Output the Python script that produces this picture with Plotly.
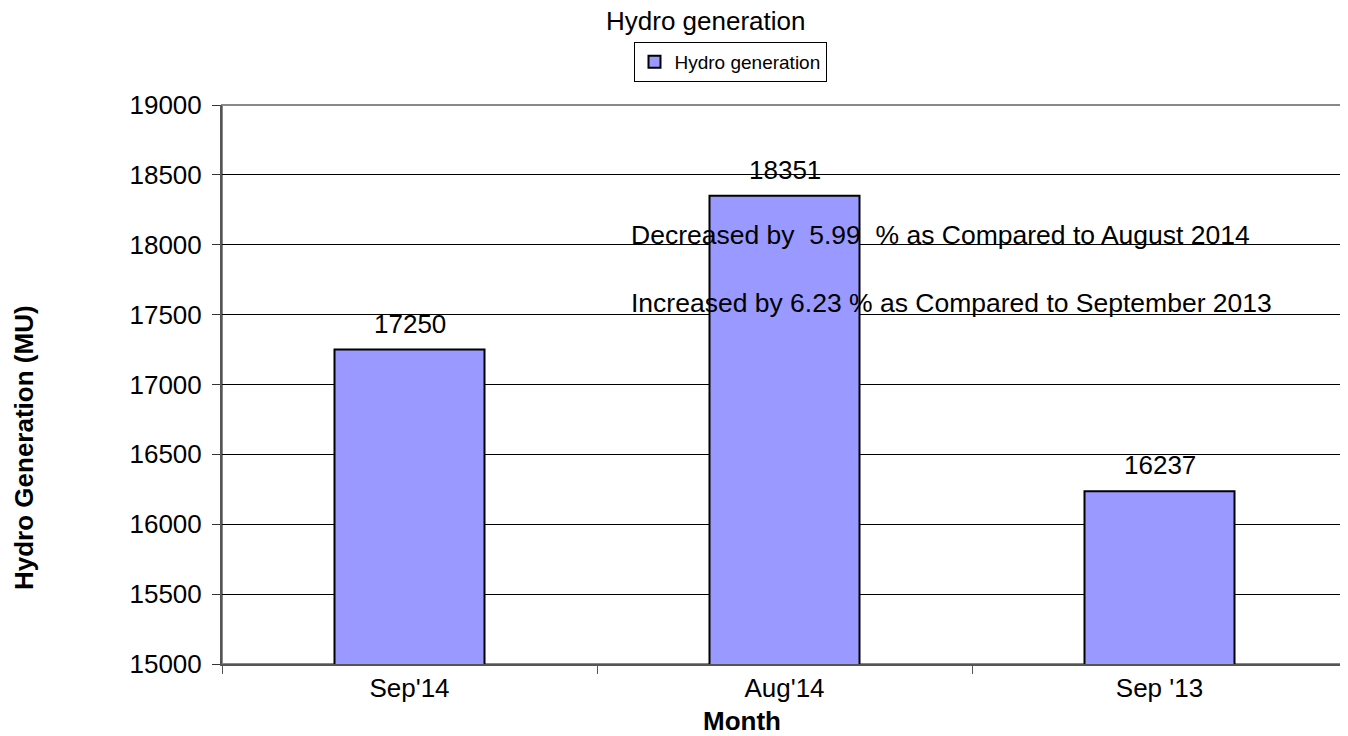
import plotly.graph_objects as go

categories = ["Sep'14", "Aug'14", "Sep '13"]
values = [17250, 18351, 16237]
series_name = "Hydro generation"
chart_title = "Hydro generation"
notes = [
    "Decreased by\u00a0 5.99\u00a0 % as Compared to August 2014",
    "Increased by 6.23 % as Compared to September 2013",
]
note_y = [18000, 17500]

FONT = "Liberation Sans, Arial, sans-serif"
FS = 26

# page has an 8px body margin; figure sized so it fills the 1348x736 window
W, H = 1340, 728
OFF = 8
PX0, PX1, PY0, PY1 = 222, 1347, 105, 664  # plot area in page pixels
L, R, T, B = PX0 - OFF, (W + OFF) - PX1, PY0 - OFF, (H + OFF) - PY1


def px(x):
    return (x - PX0) / (PX1 - PX0)


def py(y):
    return (PY1 - y) / (PY1 - PY0)


fig = go.Figure()
fig.add_trace(go.Bar(
    x=categories, y=values, name=series_name,
    marker=dict(color="#9999FF", line=dict(color="black", width=2)),
    width=0.4,
))

fig.update_layout(
    width=W, height=H,
    margin=dict(l=L, r=R, t=T, b=B),
    paper_bgcolor="white", plot_bgcolor="white",
    font=dict(family=FONT, size=FS, color="black"),
    showlegend=True,
    legend=dict(orientation="h", x=px(730), xanchor="center",
                y=py(62), yanchor="middle",
                bordercolor="black", borderwidth=1, bgcolor="white",
                font=dict(size=19), itemwidth=30, tracegroupgap=0),
)

fig.update_xaxes(
    type="category", tickson="boundaries", ticks="outside", ticklen=8,
    tickcolor="#555", showline=True, linecolor="#555", linewidth=2,
    showgrid=False, tickfont=dict(size=FS),
)
fig.update_yaxes(
    range=[15000, 19000], dtick=500, tickformat="d", ticks="outside", ticklen=8,
    tickcolor="#333", showline=True, linecolor="#555", linewidth=2,
    showgrid=True, gridcolor="black", gridwidth=1, zeroline=False,
    tickfont=dict(size=FS), ticklabelstandoff=5,
)

fig.add_shape(type="rect", xref="paper", yref="paper", x0=0, x1=1, y0=0, y1=1,
              line=dict(color="#888", width=2), layer="below")

# chart title
fig.add_annotation(text=chart_title, xref="paper", yref="paper",
                   x=px(705), y=py(21), xanchor="center", yanchor="middle",
                   showarrow=False, font=dict(size=FS))

# data labels above bars
for c, v in zip(categories, values):
    fig.add_annotation(text=str(v), x=c, y=v, xref="x", yref="y",
                       xanchor="center", yanchor="bottom", yshift=9,
                       showarrow=False, font=dict(size=FS, color="black"))

# comparison notes
for t, y, ys in zip(notes, note_y, [-7, -5]):
    fig.add_annotation(text=t, x=categories[1], y=y, xref="x", yref="y",
                       xanchor="left", xshift=631 - 784.5 - 2, yanchor="bottom",
                       yshift=ys, showarrow=False,
                       font=dict(size=26.5, color="black"))

fig.add_annotation(text="<b>Hydro Generation (MU)</b>", textangle=-90,
                   xref="paper", yref="paper", x=px(24), y=py(448),
                   xanchor="center", yanchor="middle",
                   showarrow=False, font=dict(size=FS))
fig.add_annotation(text="<b>Month</b>", xref="paper", yref="paper",
                   x=px(742), y=py(721), xanchor="center", yanchor="middle",
                   showarrow=False, font=dict(size=FS))

fig.write_html("out.html")
